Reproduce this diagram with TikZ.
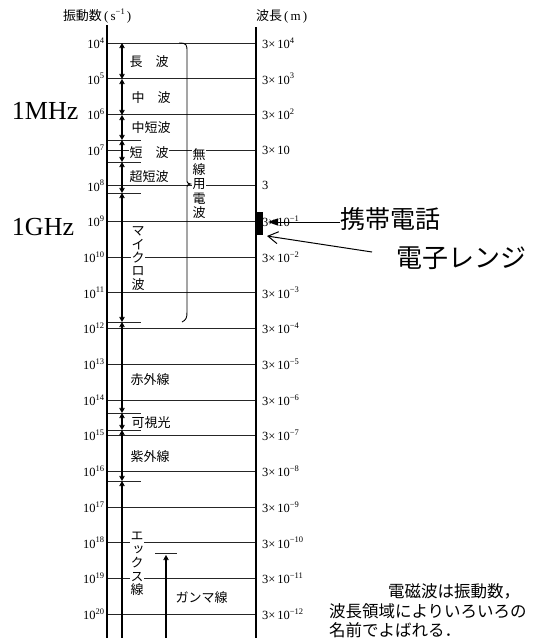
\documentclass[tikz,border=0pt]{standalone}
\usepackage{fontspec}
\setmainfont{Liberation Serif}
\newfontfamily\jp{Noto Sans CJK JP}
\newfontfamily\jpv[RawFeature=+vert]{Noto Sans CJK JP}
\usetikzlibrary{arrows.meta}
\newcommand\mysup[1]{\raisebox{0.42em}{\fontsize{8.5}{9}\selectfont #1}}
\begin{document}
\begin{tikzpicture}[x=1pt,y=-1pt,
  every node/.style={inner sep=0pt,outer sep=0pt},
  ln/.style={line width=0.8pt,black!85},
  vl/.style={line width=1.1pt},
  seg/.style={line width=1.1pt,{Straight Barb[length=4pt,width=4.5pt]}-{Straight Barb[length=4pt,width=4.5pt]}},
  upar/.style={line width=1.1pt,-{Straight Barb[length=4pt,width=4.5pt]}},
  lab/.style={font=\jp\fontsize{13}{14}\selectfont,fill=white,inner sep=0.5pt,anchor=west},
  vlab/.style={fill=white,inner sep=0.3pt,align=center},
  tick/.style={font=\fontsize{12.5}{13}\selectfont},
  big/.style={font=\jp\fontsize{25}{27}\selectfont,anchor=west},
  note/.style={font=\jp\fontsize{16.5}{18}\selectfont,anchor=west},
]
\fill[white] (0,0) rectangle (534,638);
\useasboundingbox (0,0) rectangle (534,638);

% decade lines and labels
\foreach \e in {4,...,20} {
  \pgfmathsetmacro\yy{43+35.69*(\e-4)}
  \pgfmathtruncatemacro\ex{8-\e}
  \pgfmathtruncatemacro\nx{\e-8}
  \coordinate (dl\e) at (107,\yy);
  \coordinate (dr\e) at (256,\yy);
  \draw[ln] (dl\e) -- (dr\e);
  \node[tick,anchor=east] (f\e) at (104,\yy) {10\mysup{\e}};
  \ifnum\e=7 \def\lbl{3×\,10}\else\ifnum\e=8 \def\lbl{3}\else
    \ifnum\e<8 \edef\lbl{3×\,10\noexpand\mysup{\ex}}\else\edef\lbl{3×\,10\noexpand\mysup{−\nx}}\fi\fi\fi
  \node[tick,anchor=west] (w\e) at (262,\yy) {\lbl};
}

% short boundary lines
\foreach \y [count=\i] in {140,162,193,322,413,430,481} {
  \coordinate (sa\i) at (107,\y);
  \coordinate (sb\i) at (141,\y);
  \draw[ln] (sa\i) -- (sb\i);
}

% axes
\coordinate (LT) at (107,25); \coordinate (LB) at (107,638);
\coordinate (RT) at (256,27); \coordinate (RB) at (256,638);
\draw[vl] (LT) -- (LB);
\draw[vl] (RT) -- (RB);

% headers
\node[anchor=west,font=\fontsize{13}{14}\selectfont] (hf) at (63,16) {{\jp 振動数}\,(\,s\mysup{−1}\,)};
\node[anchor=west,font=\fontsize{13}{14}\selectfont] (hw) at (256,16) {{\jp 波長}\,(\,m\,)};

% brace
\coordinate (brT) at (179,43);
\coordinate (brM) at (190.5,184);
\coordinate (brB) at (182,322);
\draw[line width=0.9pt] (brT) .. controls (187,43) and (187,45) .. (187,52) -- (187,179)
  .. controls (187,183) .. (brM) .. controls (187,185) .. (187,189) -- (187,312)
  .. controls (187,318) and (186,320) .. (brB);

% arrow column
\foreach \y [count=\i from 0] in {43,79,115,140,162,193,322,413,430,481,638} {
  \coordinate (a\i) at (122,\y);
}
\foreach \i [evaluate=\i as \j using int(\i+1)] in {0,...,8} {
  \draw[seg] (a\i) -- (a\j);
}
\draw[upar] (a10) -- (a9);

% gamma
\coordinate (gb) at (166,638); \coordinate (gt) at (166,555);
\coordinate (gL) at (155,553); \coordinate (gR) at (177,553);
\draw[ln] (gL) -- (gR);
\draw[upar] (gb) -- (gt);

% labels
\node[lab] (n1) at (129,62) {長　波};
\node[lab] (n2) at (131,98) {中　波};
\node[lab] (n3) at (131,128) {中短波};
\node[lab] (n4) at (129,153) {短　波};
\node[lab] (n5) at (129,177) {超短波};
\node[lab] (n7) at (130,380) {赤外線};
\node[lab] (n8) at (131,423) {可視光};
\node[lab] (n9) at (130,457) {紫外線};
\node[lab] (n11) at (175,598) {ガンマ線};
\node[vlab,font=\jp\fontsize{13}{13.3}\selectfont] (n6) at (138,258.5) {マ\\イ\\ク\\ロ\\波};
\node[vlab,font=\jpv\fontsize{13}{13.5}\selectfont] (n10) at (137,564) {エ\\ッ\\ク\\ス\\線};
\node[vlab,font=\jp\fontsize{13}{14.5}\selectfont] (radio) at (199,184) {無\\線\\用\\電\\波};

% left big labels
\node[anchor=west,font=\fontsize{26}{28}\selectfont] (mhz) at (12,110.5) {1MHz};
\node[anchor=west,font=\fontsize{26}{28}\selectfont] (ghz) at (12,227) {1GHz};

% phone / microwave
\node[fill=black,minimum width=8pt,minimum height=23pt] (band) at (259,223.5) {};
\node[big] (keitai) at (340,219) {携帯電話};
\coordinate (kt) at (268,222);
\draw[line width=1pt,-{Triangle[length=10pt,width=7pt]}] (keitai.west |- kt) -- (kt);
\node[big,font=\jp\fontsize{26}{28}\selectfont] (denshi) at (396,258) {電子レンジ};
\coordinate (ds) at (372,252);
\coordinate (dt) at (267,236);
\draw[line width=1pt,-{Straight Barb[length=10pt,width=12pt]}] (ds) -- (dt);

% note
\node[note] (t1) at (388,591) {電磁波は振動数，};
\node[note] (t2) at (329,611) {波長領域によりいろいろの};
\node[note] (t3) at (329,630) {名前でよばれる．};
\end{tikzpicture}
\end{document}
